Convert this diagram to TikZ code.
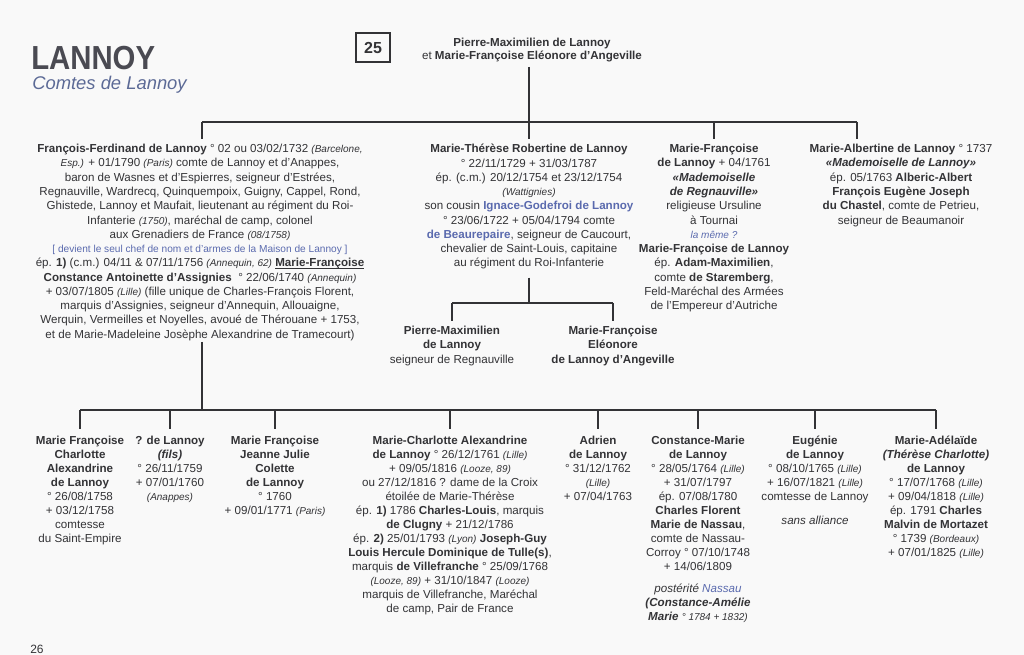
\documentclass[tikz,border=0pt]{standalone}
\usepackage{fontspec}
\setmainfont{Liberation Sans}
\definecolor{ink}{HTML}{333336}
\definecolor{blu}{HTML}{5A6AAE}
\definecolor{ttl}{HTML}{4A4A52}
\definecolor{sub}{HTML}{5C6A96}
\definecolor{paper}{HTML}{F9F9F9}
\newcommand{\plc}[1]{{\fontsize{7.5}{8}\selectfont\itshape #1}}
\newcommand{\blu}[1]{{\color{blu}#1}}
\newcommand{\myuln}[1]{\underline{\smash{#1}}}
\tikzset{
  txt/.style={anchor=north, align=center, inner sep=0pt, font=\fontsize{8.7}{10.7}\selectfont, text=ink},
  low/.style={anchor=north, align=center, inner sep=0pt, font=\fontsize{8.7}{10.5}\selectfont, text=ink},
  ln/.style={draw=ink, line width=0.85pt}
}
\begin{document}
\begin{tikzpicture}[x=0.75pt,y=-0.75pt]
\fill[paper] (0,0) rectangle (1024,655);
\useasboundingbox (0,0) rectangle (1024,655);

% title
\node[anchor=base west, inner sep=0pt, font=\bfseries\fontsize{25}{25}\selectfont, text=ttl] (title) at (31,70) {\scalebox{0.88}[1]{LANNOY}};
\node[anchor=base west, inner sep=0pt, font=\itshape\fontsize{13.8}{14}\selectfont, text=sub] (subt) at (32,90) {Comtes de Lannoy};
\node[draw=ink, line width=0.9pt, minimum width=25.5pt, minimum height=21.75pt, inner sep=0pt, font=\bfseries\fontsize{12}{12}\selectfont, text=ink] (num) at (373,47.5) {25};

% parents
\node[txt, font=\fontsize{8.7}{9.8}\selectfont] (par) at (532,38) {\textbf{Pierre-Maximilien de Lannoy}\\ et \textbf{Marie-Françoise Eléonore d'Angeville}};

% generation 1
\node[txt] (ff) at (200,144) {\textbf{François-Ferdinand de Lannoy} ° 02 ou 03/02/1732 \plc{(Barcelone,}\\
\plc{Esp.)} + 01/1790 \plc{(Paris)} comte de Lannoy et d'Anappes,\\
baron de Wasnes et d'Espierres, seigneur d'Estrées,\\
Regnauville, Wardrecq, Quinquempoix, Guigny, Cappel, Rond,\\
Ghistede, Lannoy et Maufait, lieutenant au régiment du Roi-\\
Infanterie \plc{(1750)}, maréchal de camp, colonel\\
aux Grenadiers de France \plc{(08/1758)}\\
{\fontsize{7.6}{8}\selectfont\color{blu}[ devient le seul chef de nom et d'armes de la Maison de Lannoy ]}\\
ép. \textbf{1)} (c.m.) 04/11 \& 07/11/1756 \plc{(Annequin, 62)} \textbf{\myuln{Marie-Françoise}}\\
\textbf{Constance Antoinette d'Assignies} ~° 22/06/1740 \plc{(Annequin)}\\
+ 03/07/1805 \plc{(Lille)} (fille unique de Charles-François Florent,\\
marquis d'Assignies, seigneur d'Annequin, Allouaigne,\\
Werquin, Vermeilles et Noyelles, avoué de Thérouane + 1753,\\
et de Marie-Madeleine Josèphe Alexandrine de Tramecourt)};

\node[txt] (mt) at (529,144) {\textbf{Marie-Thérèse Robertine de Lannoy}\\
° 22/11/1729 + 31/03/1787\\
ép. (c.m.) 20/12/1754 et 23/12/1754\\
\plc{(Wattignies)}\\
son cousin \textbf{\blu{Ignace-Godefroi de Lannoy}}\\
° 23/06/1722 + 05/04/1794 comte\\
\textbf{\blu{de Beaurepaire}}, seigneur de Caucourt,\\
chevalier de Saint-Louis, capitaine\\
au régiment du Roi-Infanterie};

\node[txt] (mf) at (714,144) {\textbf{Marie-Françoise}\\
\textbf{de Lannoy} + 04/1761\\
{\bfseries\itshape «Mademoiselle}\\
{\bfseries\itshape de Regnauville»}\\
religieuse Ursuline\\
à Tournai\\
\blu{\plc{la même ?}}\\
\textbf{Marie-Françoise de Lannoy}\\
ép. \textbf{Adam-Maximilien},\\
comte \textbf{de Staremberg},\\
Feld-Maréchal des Armées\\
de l'Empereur d'Autriche};

\node[txt] (ma) at (901,144) {\textbf{Marie-Albertine de Lannoy} ° 1737\\
{\bfseries\itshape «Mademoiselle de Lannoy»}\\
ép. 05/1763 \textbf{Alberic-Albert}\\
\textbf{François Eugène Joseph}\\
\textbf{du Chastel}, comte de Petrieu,\\
seigneur de Beaumanoir};

% children of Marie-Therese
\node[txt] (pm) at (452,326) {\textbf{Pierre-Maximilien}\\ \textbf{de Lannoy}\\ seigneur de Regnauville};
\node[txt] (mfe) at (613,326) {\textbf{Marie-Françoise}\\ \textbf{Eléonore}\\ \textbf{de Lannoy d'Angeville}};

% generation 2 (children of Francois-Ferdinand)
\node[low] (c1) at (80,436) {\textbf{Marie Françoise}\\ \textbf{Charlotte}\\ \textbf{Alexandrine}\\ \textbf{de Lannoy}\\ ° 26/08/1758\\ + 03/12/1758\\ comtesse\\ du Saint-Empire};
\node[low] (c2) at (170,436) {\textbf{? de Lannoy}\\ {\bfseries\itshape (fils)}\\ ° 26/11/1759\\ + 07/01/1760\\ \plc{(Anappes)}};
\node[low] (c3) at (275,436) {\textbf{Marie Françoise}\\ \textbf{Jeanne Julie}\\ \textbf{Colette}\\ \textbf{de Lannoy}\\ ° 1760\\ + 09/01/1771 \plc{(Paris)}};
\node[low] (c4) at (450,436) {\textbf{Marie-Charlotte Alexandrine}\\
\textbf{de Lannoy} ° 26/12/1761 \plc{(Lille)}\\
+ 09/05/1816 \plc{(Looze, 89)}\\
ou 27/12/1816 ? dame de la Croix\\
étoilée de Marie-Thérèse\\
ép. \textbf{1)} 1786 \textbf{Charles-Louis}, marquis\\
\textbf{de Clugny} + 21/12/1786\\
ép. \textbf{2)} 25/01/1793 \plc{(Lyon)} \textbf{Joseph-Guy}\\
\textbf{Louis Hercule Dominique de Tulle(s)},\\
marquis \textbf{de Villefranche} ° 25/09/1768\\
\plc{(Looze, 89)} + 31/10/1847 \plc{(Looze)}\\
marquis de Villefranche, Maréchal\\
de camp, Pair de France};
\node[low] (c5) at (598,436) {\textbf{Adrien}\\ \textbf{de Lannoy}\\ ° 31/12/1762\\ \plc{(Lille)}\\ + 07/04/1763};
\node[low] (c6) at (698,436) {\textbf{Constance-Marie}\\ \textbf{de Lannoy}\\ ° 28/05/1764 \plc{(Lille)}\\ + 31/07/1797\\ ép. 07/08/1780\\ \textbf{Charles Florent}\\ \textbf{Marie de Nassau},\\ comte de Nassau-\\ Corroy ° 07/10/1748\\ + 14/06/1809\\[6pt] {\itshape postérité \blu{Nassau}}\\ {\bfseries\itshape (Constance-Amélie}\\ {\bfseries\itshape Marie} \plc{° 1784 + 1832)}};
\node[low] (c7) at (815,436) {\textbf{Eugénie}\\ \textbf{de Lannoy}\\ ° 08/10/1765 \plc{(Lille)}\\ + 16/07/1821 \plc{(Lille)}\\ comtesse de Lannoy\\[7pt] {\itshape sans alliance}};
\node[low] (c8) at (936,436) {\textbf{Marie-Adélaïde}\\ {\bfseries\itshape (Thérèse Charlotte)}\\ \textbf{de Lannoy}\\ ° 17/07/1768 \plc{(Lille)}\\ + 09/04/1818 \plc{(Lille)}\\ ép. 1791 \textbf{Charles}\\ \textbf{Malvin de Mortazet}\\ ° 1739 \plc{(Bordeaux)}\\ + 07/01/1825 \plc{(Lille)}};

\node[anchor=base west, inner sep=0pt, font=\fontsize{9}{9}\selectfont, text=ink] (pg) at (30,653) {26};

% connectors generation 1
\coordinate (j0) at (529,67);
\coordinate (j1) at (529,122);
\coordinate (b1l) at (202,122);
\coordinate (b1m) at (714,122);
\coordinate (b1r) at (857,122);
\draw[ln] (j0) -- (j1);
\draw[ln] (b1l) -- (b1r);
\draw[ln, shorten >=4pt] (b1l) -- (b1l |- ff.north);
\draw[ln, shorten >=4pt] (j1) -- (j1 |- mt.north);
\draw[ln, shorten >=4pt] (b1m) -- (b1m |- mf.north);
\draw[ln, shorten >=4pt] (b1r) -- (b1r |- ma.north);

% connectors Marie-Therese
\coordinate (j2) at (529,303);
\coordinate (b2l) at (452,303);
\coordinate (b2r) at (613,303);
\draw[ln, shorten <=6pt] (mt.south) -- (j2);
\draw[ln] (b2l) -- (b2r);
\draw[ln, shorten >=4pt] (b2l) -- (b2l |- pm.north);
\draw[ln, shorten >=4pt] (b2r) -- (b2r |- mfe.north);

% connectors Francois-Ferdinand
\coordinate (j3t) at (202,342);
\coordinate (j3) at (202,410);
\coordinate (b3l) at (80,410);
\coordinate (b3r) at (936,410);
\draw[ln] (j3t) -- (j3);
\draw[ln] (b3l) -- (b3r);
\foreach \c in {c1,c2,c3,c4,c5,c6,c7,c8}{
  \draw[ln, shorten >=5pt] (\c.north |- b3l) -- (\c.north);
}
\end{tikzpicture}
\end{document}
